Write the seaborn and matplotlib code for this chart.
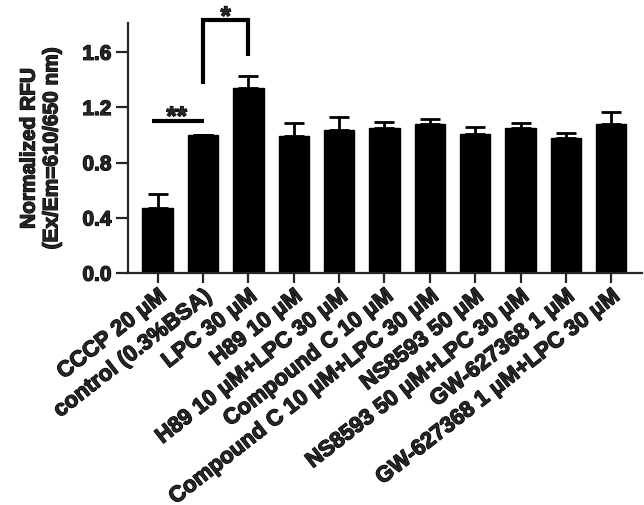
import matplotlib
matplotlib.use("Agg")
import matplotlib.pyplot as plt
import matplotlib.patheffects as pe
import seaborn as sns
import numpy as np
import pandas as pd

groups = [
    "CCCP 20 μM",
    "control (0.3%BSA)",
    "LPC 30 μM",
    "H89 10 μM",
    "H89 10 μM+LPC 30 μM",
    "Compound C 10 μM",
    "Compound C 10 μM+LPC 30 μM",
    "NS8593 50 μM",
    "NS8593 50 μM+LPC 30 μM",
    "GW-627368 1 μM",
    "GW-627368 1 μM+LPC 30 μM",
]
rfu = [0.47, 1.00, 1.34, 0.99, 1.04, 1.05, 1.08, 1.01, 1.05, 0.98, 1.08]
sem = [0.10, 0.00, 0.09, 0.10, 0.09, 0.045, 0.04, 0.05, 0.035, 0.035, 0.09]

df = pd.DataFrame({"group": groups, "rfu": rfu, "sem": sem})

sns.set_style("ticks")
plt.rcParams["font.family"] = ["Liberation Sans", "DejaVu Sans"]
plt.rcParams["font.weight"] = "bold"

heavy = [pe.withStroke(linewidth=0.9, foreground="black")]

fig = plt.figure(figsize=(6.44, 5.05), dpi=100)
ax = fig.add_axes([0.199, 0.459, 0.798, 0.495])

sns.barplot(data=df, x="group", y="rfu", color="black", width=0.67,
            errorbar=None, ax=ax, edgecolor="black", linewidth=1)
xs = np.arange(len(groups))
ax.errorbar(xs, df["rfu"], yerr=[np.zeros(len(groups)), df["sem"]],
            fmt="none", ecolor="black", elinewidth=2, capsize=7, capthick=2,
            zorder=1)

ax.set_xlim(-0.65, len(groups) - 0.32)
ax.set_ylim(0, 1.81)
ax.set_yticks([0.0, 0.4, 0.8, 1.2, 1.6])
ax.set_yticklabels(["0.0", "0.4", "0.8", "1.2", "1.6"], fontsize=15,
                   fontweight="bold", path_effects=heavy)
ax.set_xticks(xs)
ax.set_xticklabels(groups, rotation=38, ha="right", va="top",
                   rotation_mode="anchor", fontsize=16, fontweight="bold",
                   path_effects=heavy)
ax.set_xlabel("")

ax.set_ylabel("Normalized RFU\n(Ex/Em=610/650 nm)", fontsize=15,
              fontweight="bold", linespacing=1.25, path_effects=heavy)
ax.yaxis.set_label_coords(-0.13, 0.5)

for side in ["top", "right"]:
    ax.spines[side].set_visible(False)
for side in ["left", "bottom"]:
    ax.spines[side].set_linewidth(1.6)
ax.tick_params(axis="y", length=9, width=1.6, pad=3)
ax.tick_params(axis="x", length=7, width=1.6, pad=2)

# significance marks
ax.plot([-0.13, 1.02], [1.10, 1.10], color="black", lw=3, clip_on=False,
        solid_capstyle="butt")
ax.text(0.42, 1.075, "**", ha="center", va="baseline", fontsize=19,
        fontweight="bold", path_effects=heavy)
ax.plot([0.99, 0.99, 1.99, 1.99], [1.37, 1.83, 1.83, 1.57], color="black",
        lw=3, clip_on=False, solid_joinstyle="miter", solid_capstyle="butt")
ax.text(1.5, 1.80, "*", ha="center", va="baseline", fontsize=19,
        fontweight="bold", path_effects=heavy, clip_on=False)

fig.savefig("out.png", dpi=100)
